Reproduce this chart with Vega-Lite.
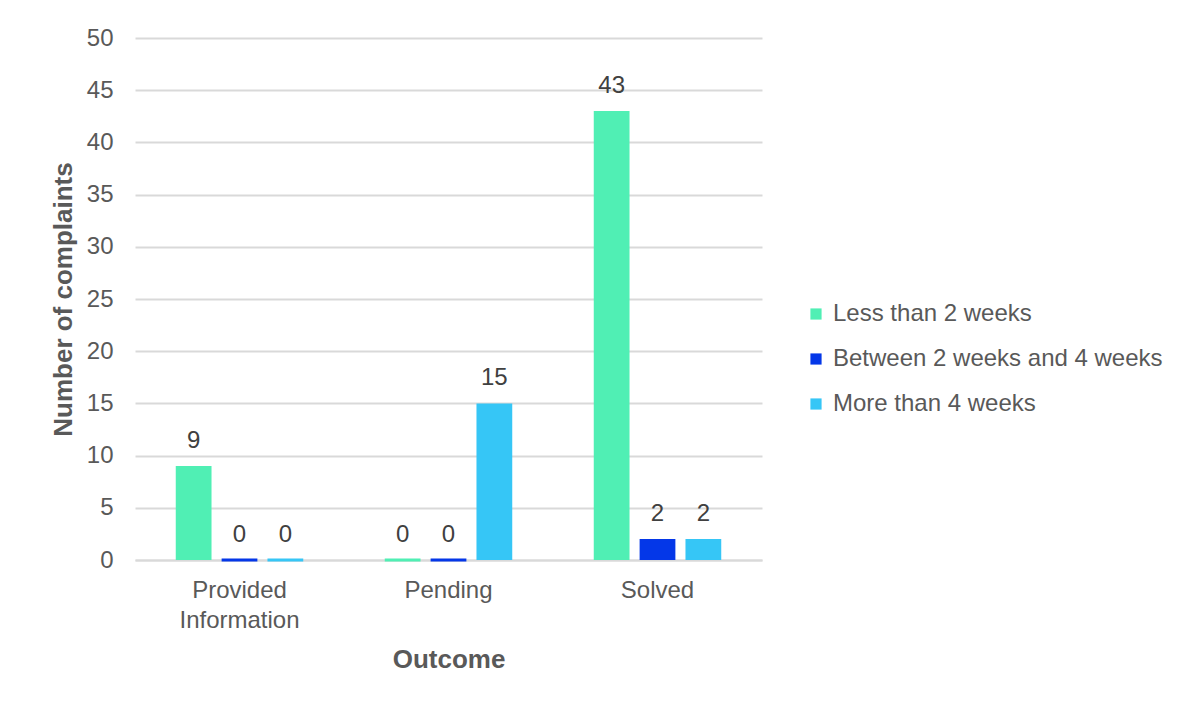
{
  "$schema": "https://vega.github.io/schema/vega-lite/v6.json",
  "autosize": "none",
  "width": 627,
  "height": 522,
  "padding": {"left": 135, "top": 38, "right": 435, "bottom": 145},
  "background": "white",
  "config": {
    "font": "Liberation Sans",
    "view": {"stroke": null}
  },
  "data": {
    "values": [
      {"outcome": "Provided Information", "duration": "Less than 2 weeks", "count": 9},
      {"outcome": "Provided Information", "duration": "Between 2 weeks and 4 weeks", "count": 0},
      {"outcome": "Provided Information", "duration": "More than 4 weeks", "count": 0},
      {"outcome": "Pending", "duration": "Less than 2 weeks", "count": 0},
      {"outcome": "Pending", "duration": "Between 2 weeks and 4 weeks", "count": 0},
      {"outcome": "Pending", "duration": "More than 4 weeks", "count": 15},
      {"outcome": "Solved", "duration": "Less than 2 weeks", "count": 43},
      {"outcome": "Solved", "duration": "Between 2 weeks and 4 weeks", "count": 2},
      {"outcome": "Solved", "duration": "More than 4 weeks", "count": 2}
    ]
  },
  "encoding": {
    "x": {
      "field": "outcome",
      "type": "nominal",
      "sort": ["Provided Information", "Pending", "Solved"],
      "scale": {"paddingInner": 0.39, "paddingOuter": 0.195},
      "axis": {
        "title": "Outcome",
        "titleFontSize": 26,
        "titleFontWeight": "bold",
        "titleColor": "#595959",
        "titlePadding": 14,
        "labelAngle": 0,
        "labelFontSize": 24,
        "labelColor": "#595959",
        "labelPadding": 18,
        "labelLineHeight": 30,
        "labelExpr": "datum.value == 'Provided Information' ? ['Provided', 'Information'] : datum.value",
        "ticks": false,
        "domainColor": "#d9d9d9",
        "domainWidth": 2
      }
    },
    "xOffset": {
      "field": "duration",
      "type": "nominal",
      "sort": ["Less than 2 weeks", "Between 2 weeks and 4 weeks", "More than 4 weeks"],
      "scale": {"paddingInner": 0.22, "paddingOuter": 0}
    },
    "y": {
      "field": "count",
      "type": "quantitative",
      "scale": {"domain": [0, 50]},
      "axis": {
        "title": "Number of complaints",
        "titleFontSize": 26,
        "titleFontWeight": "bold",
        "titleColor": "#595959",
        "titlePadding": 10,
        "values": [0, 5, 10, 15, 20, 25, 30, 35, 40, 45, 50],
        "labelFontSize": 24,
        "labelColor": "#595959",
        "labelPadding": 22,
        "ticks": false,
        "domain": false,
        "gridColor": "#d9d9d9",
        "gridWidth": 2
      }
    }
  },
  "layer": [
    {
      "mark": {"type": "bar"},
      "encoding": {
        "color": {
          "field": "duration",
          "type": "nominal",
          "sort": ["Less than 2 weeks", "Between 2 weeks and 4 weeks", "More than 4 weeks"],
          "scale": {
            "domain": ["Less than 2 weeks", "Between 2 weeks and 4 weeks", "More than 4 weeks"],
            "range": ["#50EFB4", "#0437E8", "#36C6F6"]
          },
          "legend": {
            "title": null,
            "orient": "none",
            "legendX": 669,
            "legendY": 264,
            "symbolType": "square",
            "symbolSize": 125,
            "symbolStrokeWidth": 0,
            "labelFontSize": 24,
            "labelColor": "#595959",
            "labelLimit": 500,
            "labelOffset": 5,
            "rowPadding": 21
          }
        },
        "stroke": {
          "field": "duration",
          "type": "nominal",
          "scale": {
            "domain": ["Less than 2 weeks", "Between 2 weeks and 4 weeks", "More than 4 weeks"],
            "range": ["#50EFB4", "#0437E8", "#36C6F6"]
          },
          "legend": null
        },
        "strokeWidth": {
          "condition": {"test": "datum.count === 0", "value": 3},
          "value": 0
        }
      }
    },
    {
      "mark": {"type": "text", "baseline": "alphabetic", "dy": -18, "fontSize": 24, "color": "#404040"},
      "encoding": {
        "text": {"field": "count", "type": "quantitative"}
      }
    }
  ]
}
